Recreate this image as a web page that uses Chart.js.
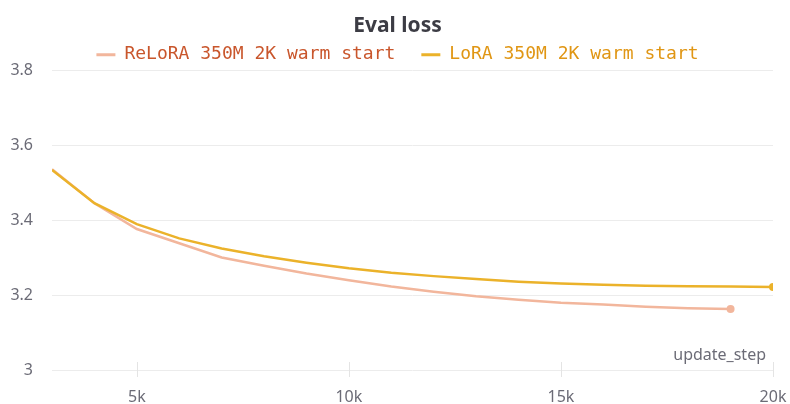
<!DOCTYPE html>
<html>
<head>
<meta charset="utf-8">
<script src="https://cdn.jsdelivr.net/npm/chart.js@4"></script>
<style>
html,body{margin:0;padding:0;background:#fff;}
#wrap{width:790px;height:404px;}
</style>
</head>
<body>
<div id="wrap"><canvas id="c" width="790" height="404"></canvas></div>
<script>
const steps = [3000,4000,5000,6000,7000,8000,9000,10000,11000,12000,13000,14000,15000,16000,17000,18000,19000,20000];
const reloraSteps = [3000,4000,5000,6000,7000,8000,9000,10000,11000,12000,13000,14000,15000,16000,17000,18000,19000];
const reloraLoss = [3.537,3.446,3.377,3.339,3.301,3.279,3.258,3.240,3.223,3.209,3.197,3.188,3.180,3.175,3.169,3.165,3.163];
const loraLoss = [3.535,3.446,3.390,3.352,3.325,3.304,3.287,3.272,3.260,3.251,3.243,3.236,3.231,3.228,3.225,3.224,3.223,3.222];
const yTicks = [3,3.2,3.4,3.6,3.8];
const xTicks = [5000,10000,15000,20000];
const seriesNames = ['ReLoRA 350M 2K warm start','LoRA 350M 2K warm start'];
const lineColors = ['#f2b69c','#ebb22a'];
const textColors = ['#c9562c','#e09614'];

function pts(xs, ys){ return ys.map((v,i)=>({x:xs[i], y:v})); }
function lastRadius(n,r){ return Array.from({length:n},(_,i)=> i===n-1 ? r : 0); }

const tickMarks = {
  id:'tickMarks',
  afterDraw(chart){
    const {ctx, chartArea, scales} = chart;
    const xs = scales.x;
    ctx.save();
    ctx.strokeStyle = '#e4e4e4';
    ctx.lineWidth = 1;
    xTicks.forEach(v=>{
      const px = Math.round(xs.getPixelForValue(v)) + 0.5;
      ctx.beginPath();
      ctx.moveTo(px, chartArea.bottom - 8);
      ctx.lineTo(px, chartArea.bottom + 7);
      ctx.stroke();
    });
    ctx.fillStyle = '#6b6b76';
    ctx.font = '16px "Noto Sans"';
    ctx.textAlign = 'right';
    ctx.textBaseline = 'alphabetic';
    ctx.fillText('update_step', chartArea.right - 7, chartArea.bottom - 10);
    ctx.restore();
  }
};

new Chart(document.getElementById('c'), {
  type:'line',
  data:{
    datasets:[
      {label:seriesNames[0], data:pts(reloraSteps, reloraLoss), borderColor:lineColors[0], backgroundColor:lineColors[0], borderWidth:2.5, pointRadius:lastRadius(reloraLoss.length,4), pointBackgroundColor:lineColors[0], pointBorderWidth:0, tension:0, order:1},
      {label:seriesNames[1], data:pts(steps, loraLoss), borderColor:lineColors[1], backgroundColor:lineColors[1], borderWidth:2.5, pointRadius:lastRadius(loraLoss.length,4), pointBackgroundColor:lineColors[1], pointBorderWidth:0, tension:0, order:0}
    ]
  },
  options:{
    responsive:false,
    animation:false,
    layout:{padding:{left:0,right:-5,top:0,bottom:0}},
    plugins:{
      title:{display:true, text:'Eval loss', color:'#3c3c44', font:{family:'"Noto Sans"', size:21, weight:'bold'}, padding:{top:13,bottom:-18.4}},
      legend:{
        display:true,
        maxHeight:51,
        labels:{
          boxWidth:19, boxHeight:3, padding:26,
          font:{family:'"DejaVu Sans Mono"', size:18},
          sort:(a,b)=>a.datasetIndex-b.datasetIndex,
          generateLabels(chart){
            return chart.data.datasets.map((ds,i)=>({
              text:ds.label, fillStyle:lineColors[i], strokeStyle:lineColors[i], lineWidth:0,
              fontColor:textColors[i], datasetIndex:i, hidden:false
            }));
          }
        }
      },
      tooltip:{enabled:false}
    },
    scales:{
      x:{
        type:'linear', min:3000, max:20000,
        afterBuildTicks(s){ s.ticks = xTicks.map(v=>({value:v})); },
        afterFit(s){ s.height = 34; s.paddingRight = 17; },
        grid:{display:false},
        border:{display:false},
        ticks:{padding:10, color:'#6b6b76', font:{family:'"Noto Sans"', size:16}, maxRotation:0, callback:v=>(v/1000)+'k'}
      },
      y:{
        min:3, max:3.8,
        afterBuildTicks(s){ s.ticks = yTicks.map(v=>({value:v})); },
        afterFit(s){ s.width = 52; },
        grid:{color:'#ececec', lineWidth:1, drawTicks:false},
        border:{display:false},
        ticks:{padding:19, color:'#6b6b76', font:{family:'"Noto Sans"', size:16}, callback:v=>String(Math.round(v*10)/10)}
      }
    }
  },
  plugins:[tickMarks]
});
</script>
</body>
</html>
